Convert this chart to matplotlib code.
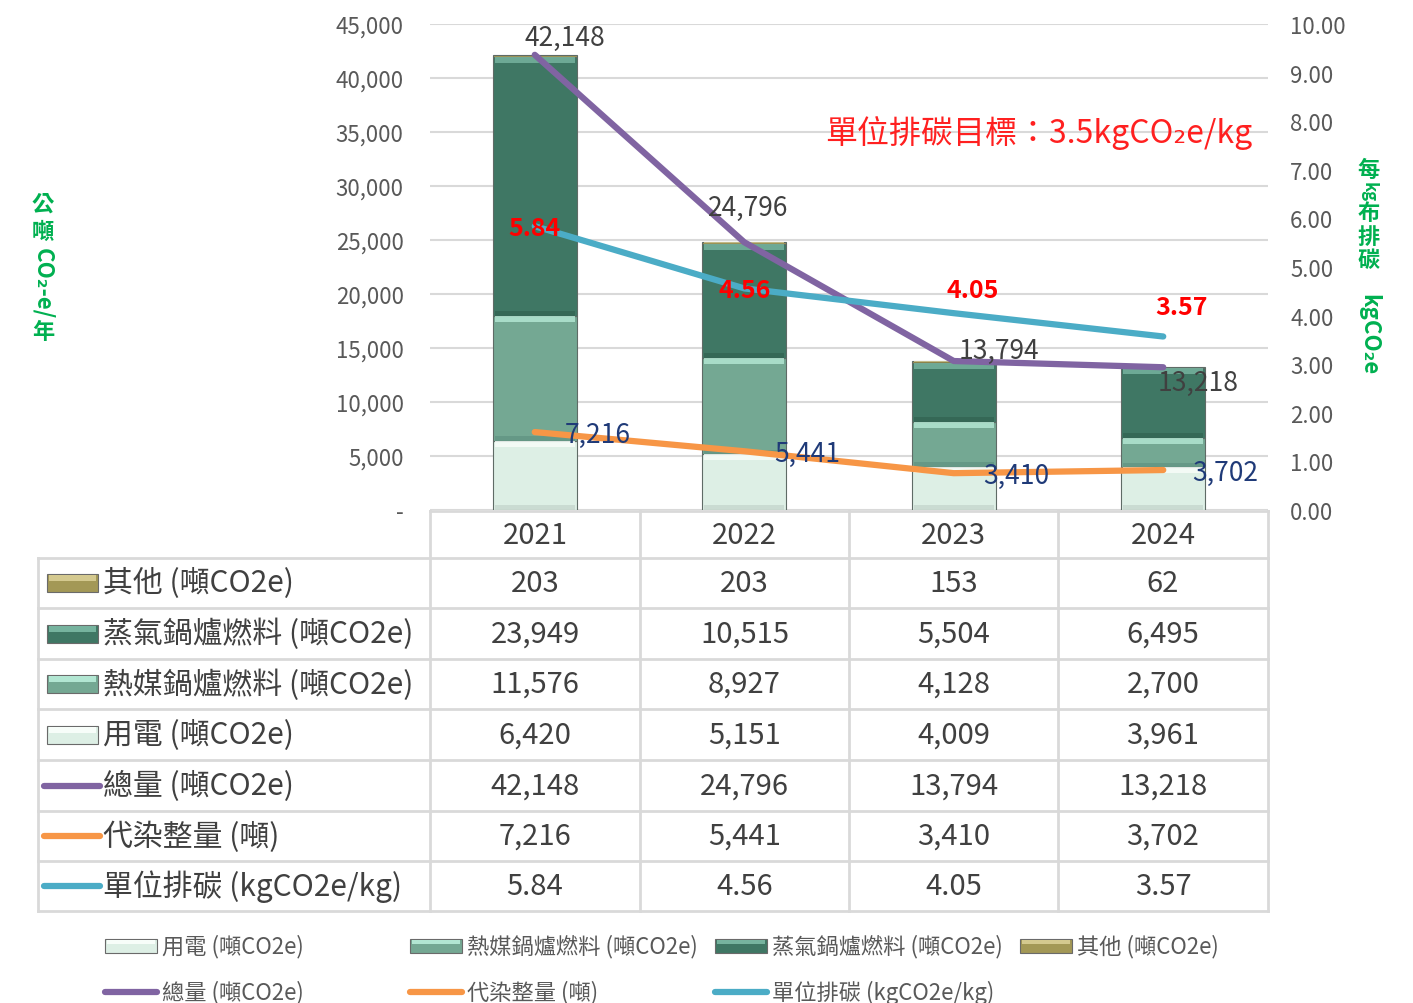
import matplotlib.pyplot as plt
from matplotlib.patches import Rectangle
from matplotlib.ticker import FuncFormatter
import numpy as np

plt.rcParams['font.family'] = ['Noto Sans CJK TC', 'DejaVu Sans']

# data
years = ['2021', '2022', '2023', '2024']
electricity = [6420, 5151, 4009, 3961]      # 用電
thermal_oil = [11576, 8927, 4128, 2700]     # 熱媒鍋爐燃料
steam = [23949, 10515, 5504, 6495]          # 蒸氣鍋爐燃料
other = [203, 203, 153, 62]                 # 其他
total = [42148, 24796, 13794, 13218]        # 總量
dyeing = [7216, 5441, 3410, 3702]           # 代染整量
intensity = [5.84, 4.56, 4.05, 3.57]        # 單位排碳

W, H = 1413, 1004
fig = plt.figure(figsize=(W / 100, H / 100), dpi=100)

ax = fig.add_axes([430 / W, 1 - 511 / H, 838 / W, 486 / H])
x = np.arange(len(years))

seg_names = ['用電 (噸CO2e)', '熱媒鍋爐燃料 (噸CO2e)', '蒸氣鍋爐燃料 (噸CO2e)', '其他 (噸CO2e)']
seg_vals = [electricity, thermal_oil, steam, other]
seg_col = ['#ddefe5', '#74a893', '#3f7764', '#a39856']
seg_light = ['#f7fdf9', '#b2e6d2', '#76b39e', '#d4c98f']
seg_dark = ['#b9c9c0', '#58897a', '#2c5a4a', '#7d7440']

bottom = np.zeros(len(years))
for vals, c, cl, cd in zip(seg_vals, seg_col, seg_light, seg_dark):
    v = np.array(vals, dtype=float)
    ax.bar(x, v, 0.4, bottom=bottom, color=c, edgecolor='#5f6b66', linewidth=0.8, zorder=2)
    hl = np.minimum(v * 0.3, 550)
    ax.bar(x, hl, 0.38, bottom=bottom + v - hl, color=cl, linewidth=0, zorder=2.1, alpha=0.85)
    dk = np.minimum(v * 0.15, 450)
    ax.bar(x, dk, 0.38, bottom=bottom, color=cd, linewidth=0, zorder=2.1, alpha=0.5)
    bottom += v

ax.plot(x, total, color='#8064a2', lw=4.5, solid_capstyle='round', zorder=4)
ax.plot(x, dyeing, color='#f79646', lw=4.5, solid_capstyle='round', zorder=4)

ax.set_xlim(-0.5, 3.5)
ax.set_ylim(0, 45000)
ax.set_yticks(np.arange(0, 45001, 5000))
ax.yaxis.set_major_formatter(FuncFormatter(lambda v, p: '-' if v == 0 else f'{v:,.0f}'))
ax.set_xticks([])
ax.grid(axis='y', color='#d9d9d9', lw=1.5, zorder=0)
ax.set_axisbelow(True)
for s in ax.spines.values():
    s.set_visible(False)
ax.tick_params(axis='y', length=0, labelsize=16, colors='#595959', pad=19)

ax2 = ax.twinx()
ax2.plot(x, intensity, color='#4bacc6', lw=4.5, solid_capstyle='round', zorder=5)
ax2.set_ylim(0, 10)
ax2.set_yticks(np.arange(0, 10.01, 1))
ax2.yaxis.set_major_formatter(FuncFormatter(lambda v, p: f'{v:.2f}'))
for s in ax2.spines.values():
    s.set_visible(False)
ax2.tick_params(axis='y', length=0, labelsize=16, colors='#595959', pad=16)

# data labels
tot_off = [(30, 17), (4, 35), (45, 11), (35, -15)]
for i, v in enumerate(total):
    ax.annotate(f'{v:,}', (x[i], v), xytext=tot_off[i], textcoords='offset pixels',
                ha='center', va='center', fontsize=19, color='#404040', zorder=6)
dye_off = [(63, -2), (63, -2), (63, -2), (62, -2)]
for i, v in enumerate(dyeing):
    ax.annotate(f'{v:,}', (x[i], v), xytext=dye_off[i], textcoords='offset pixels',
                ha='center', va='center', fontsize=19, color='#1f3a78', zorder=6)
int_off = [(0, -2), (0, -2), (19, 23), (18, 29)]
for i, v in enumerate(intensity):
    ax2.annotate(f'{v:.2f}', (x[i], v), xytext=int_off[i], textcoords='offset pixels',
                 ha='center', va='center', fontsize=18, color='#ff0000',
                 fontweight='bold', zorder=7)

# overlay in pixel coordinates for table, legend, titles
ov = fig.add_axes([0, 0, 1, 1])
ov.set_xlim(0, W)
ov.set_ylim(H, 0)
ov.axis('off')
ov.patch.set_alpha(0)

ov.text(1039, 133, '單位排碳目標：3.5kgCO₂e/kg', color='#ff2020', fontsize=23,
        ha='center', va='center')

green = '#00b050'
for txt, yy, rot, fs in [('公', 204, 0, 16), ('噸', 232, 0, 16), ('CO₂-e/', 284, -90, 16),
                         ('年', 333, 0, 16)]:
    ov.text(43, yy, txt, color=green, fontsize=fs, fontweight='bold',
            ha='center', va='center', rotation=rot)
for txt, yy, rot, fs in [('每', 170, 0, 16), ('kg', 192, -90, 12), ('布', 213, 0, 16),
                         ('排', 237, 0, 16), ('碳', 260, 0, 16), ('kgCO₂e', 335, -90, 16)]:
    ov.text(1369, yy, txt, color=green, fontsize=fs, fontweight='bold',
            ha='center', va='center', rotation=rot)

# data table
gc = '#d9d9d9'
col_x = [430, 640, 849, 1058, 1268]
row_y = [512, 559, 609, 660, 710, 761, 812, 862, 912]
ov.plot([430, 1268], [row_y[0], row_y[0]], color=gc, lw=2)
for yy in row_y[1:]:
    ov.plot([38, 1268], [yy, yy], color=gc, lw=2)
for xx in col_x:
    ov.plot([xx, xx], [512, 912], color=gc, lw=2)
ov.plot([38, 38], [559, 912], color=gc, lw=2)

centers = [(col_x[i] + col_x[i + 1]) / 2 for i in range(4)]
for cx, yr in zip(centers, years):
    ov.text(cx, 536, yr, ha='center', va='center', fontsize=21, color='#404040')

row_labels = ['其他 (噸CO2e)', '蒸氣鍋爐燃料 (噸CO2e)', '熱媒鍋爐燃料 (噸CO2e)', '用電 (噸CO2e)',
              '總量 (噸CO2e)', '代染整量 (噸)', '單位排碳 (kgCO2e/kg)']
row_data = [other, steam, thermal_oil, electricity, total, dyeing, intensity]
row_kind = [('bar', 3), ('bar', 2), ('bar', 1), ('bar', 0),
            ('line', '#8064a2'), ('line', '#f79646'), ('line', '#4bacc6')]
for r, (lab, vals, kind) in enumerate(zip(row_labels, row_data, row_kind)):
    cy = (row_y[r + 1] + row_y[r + 2]) / 2
    if kind[0] == 'bar':
        k = kind[1]
        ov.add_patch(Rectangle((47, cy - 9), 51, 18, facecolor=seg_col[k],
                               edgecolor='#6a6a6a', lw=0.8))
        ov.add_patch(Rectangle((49, cy - 8), 47, 6, facecolor=seg_light[k], lw=0))
    else:
        ov.plot([44, 100], [cy, cy], color=kind[1], lw=4.5, solid_capstyle='round')
    ov.text(103, cy, lab, ha='left', va='center', fontsize=21.5, color='#404040')
    for cx, v in zip(centers, vals):
        s = f'{v:.2f}' if isinstance(v, float) else f'{v:,}'
        ov.text(cx, cy, s, ha='center', va='center', fontsize=21, color='#404040')

# bottom legend
leg = [(105, 947, 'bar', 0, seg_names[0]), (410, 947, 'bar', 1, seg_names[1]),
       (715, 947, 'bar', 2, seg_names[2]), (1020, 947, 'bar', 3, seg_names[3]),
       (105, 993, 'line', '#8064a2', '總量 (噸CO2e)'),
       (410, 993, 'line', '#f79646', '代染整量 (噸)'),
       (715, 993, 'line', '#4bacc6', '單位排碳 (kgCO2e/kg)')]
for lx, ly, kind, k, lab in leg:
    if kind == 'bar':
        ov.add_patch(Rectangle((lx, ly - 7), 52, 14, facecolor=seg_col[k],
                               edgecolor='#6a6a6a', lw=0.8))
        ov.add_patch(Rectangle((lx + 2, ly - 6), 48, 4, facecolor=seg_light[k], lw=0))
    else:
        ov.plot([lx, lx + 52], [ly, ly], color=k, lw=4.5, solid_capstyle='round')
    ov.text(lx + 57, ly, lab, ha='left', va='center', fontsize=16, color='#595959')

fig.savefig('out.png', dpi=100)
